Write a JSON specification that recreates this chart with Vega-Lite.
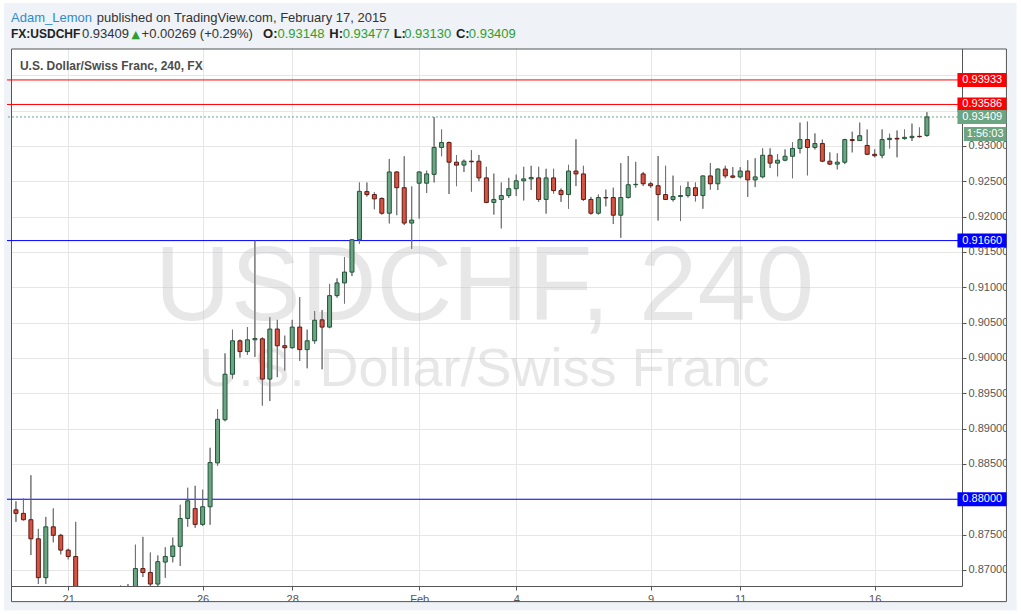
{
  "$schema": "https://vega.github.io/schema/vega-lite/v6.json",
  "width": 955,
  "height": 542,
  "autosize": "none",
  "padding": {"left": 7, "top": 44, "right": 59, "bottom": 28},
  "background": "#ffffff",
  "config": {
    "view": {"stroke": null},
    "font": "Liberation Sans",
    "axis": {"labelOverlap": false, "labelFlush": false, "gridColor": "#e6e6e6", "tickColor": "#555555", "domainColor": "#555555", "labelColor": "#555555", "labelFontSize": 11, "labelFont": "Liberation Sans", "tickSize": 4},
    "axisY": {"labelOverlap": false, "labelFlush": false, "tickCount": 30},
    "axisX": {"labelOverlap": false, "labelFlush": false, "tickCount": 30}
  },
  "datasets": {
    "candles": [
      {"i":0,"o":0.8785,"h":0.8797,"l":0.8768,"c":0.8780},
      {"i":1,"o":0.8780,"h":0.8801,"l":0.8770,"c":0.8771},
      {"i":2,"o":0.8771,"h":0.8834,"l":0.8721,"c":0.8744},
      {"i":3,"o":0.8744,"h":0.8758,"l":0.8680,"c":0.8689},
      {"i":4,"o":0.8689,"h":0.8775,"l":0.8680,"c":0.8761},
      {"i":5,"o":0.8761,"h":0.8787,"l":0.8739,"c":0.8749},
      {"i":6,"o":0.8749,"h":0.8751,"l":0.8722,"c":0.8728},
      {"i":7,"o":0.8728,"h":0.8730,"l":0.8715,"c":0.8719},
      {"i":8,"o":0.8719,"h":0.8768,"l":0.8620,"c":0.8632},
      {"i":9,"o":0.8632,"h":0.8668,"l":0.8605,"c":0.8650},
      {"i":10,"o":0.8650,"h":0.8675,"l":0.8625,"c":0.8640},
      {"i":11,"o":0.8640,"h":0.8670,"l":0.8590,"c":0.8610},
      {"i":12,"o":0.8610,"h":0.8650,"l":0.8580,"c":0.8625},
      {"i":13,"o":0.8625,"h":0.8660,"l":0.8600,"c":0.8645},
      {"i":14,"o":0.8645,"h":0.8678,"l":0.8620,"c":0.8655},
      {"i":15,"o":0.8655,"h":0.8680,"l":0.8630,"c":0.8660},
      {"i":16,"o":0.8660,"h":0.87357,"l":0.8650,"c":0.87019},
      {"i":17,"o":0.87019,"h":0.87468,"l":0.8690,"c":0.86964},
      {"i":18,"o":0.86964,"h":0.87246,"l":0.8675,"c":0.8680},
      {"i":19,"o":0.8680,"h":0.87204,"l":0.8675,"c":0.87117},
      {"i":20,"o":0.87111,"h":0.8732,"l":0.86889,"c":0.8719},
      {"i":21,"o":0.8719,"h":0.87458,"l":0.87107,"c":0.87339},
      {"i":22,"o":0.87333,"h":0.87922,"l":0.87056,"c":0.87728},
      {"i":23,"o":0.87728,"h":0.88163,"l":0.87611,"c":0.87978},
      {"i":24,"o":0.87867,"h":0.8819,"l":0.87597,"c":0.87644},
      {"i":25,"o":0.87644,"h":0.88135,"l":0.87621,"c":0.87894},
      {"i":26,"o":0.87894,"h":0.88728,"l":0.87639,"c":0.88519},
      {"i":27,"o":0.88514,"h":0.89274,"l":0.88472,"c":0.89131},
      {"i":28,"o":0.89125,"h":0.90065,"l":0.89103,"c":0.89769},
      {"i":29,"o":0.89769,"h":0.90399,"l":0.89704,"c":0.90242},
      {"i":30,"o":0.90242,"h":0.9026,"l":0.90006,"c":0.90089},
      {"i":31,"o":0.90089,"h":0.90436,"l":0.90042,"c":0.90256},
      {"i":32,"o":0.90256,"h":0.9166,"l":0.90014,"c":0.90274},
      {"i":33,"o":0.9027,"h":0.9029,"l":0.89325,"c":0.8970},
      {"i":34,"o":0.8970,"h":0.90575,"l":0.89389,"c":0.90408},
      {"i":35,"o":0.90408,"h":0.90538,"l":0.89728,"c":0.90172},
      {"i":36,"o":0.90172,"h":0.90315,"l":0.89819,"c":0.90144},
      {"i":37,"o":0.90144,"h":0.90538,"l":0.9013,"c":0.90436},
      {"i":38,"o":0.90436,"h":0.90861,"l":0.89958,"c":0.90117},
      {"i":39,"o":0.90117,"h":0.9040,"l":0.89853,"c":0.90242},
      {"i":40,"o":0.90242,"h":0.90663,"l":0.9020,"c":0.90533},
      {"i":41,"o":0.90538,"h":0.90676,"l":0.89839,"c":0.90436},
      {"i":42,"o":0.90436,"h":0.91047,"l":0.9042,"c":0.90881},
      {"i":43,"o":0.90881,"h":0.91125,"l":0.90853,"c":0.91061},
      {"i":44,"o":0.91061,"h":0.91426,"l":0.90769,"c":0.91214},
      {"i":45,"o":0.91214,"h":0.9168,"l":0.91158,"c":0.91672},
      {"i":46,"o":0.91672,"h":0.92482,"l":0.91611,"c":0.92357},
      {"i":47,"o":0.92353,"h":0.92482,"l":0.92283,"c":0.92311},
      {"i":48,"o":0.92311,"h":0.92343,"l":0.92103,"c":0.9225},
      {"i":49,"o":0.92256,"h":0.9227,"l":0.92028,"c":0.92047},
      {"i":50,"o":0.92047,"h":0.92815,"l":0.91903,"c":0.92631},
      {"i":51,"o":0.92631,"h":0.9264,"l":0.92019,"c":0.92408},
      {"i":52,"o":0.92408,"h":0.92853,"l":0.9188,"c":0.91908},
      {"i":53,"o":0.91908,"h":0.92426,"l":0.91542,"c":0.9195},
      {"i":54,"o":0.92472,"h":0.9264,"l":0.91972,"c":0.92631},
      {"i":55,"o":0.92472,"h":0.92649,"l":0.92333,"c":0.92603},
      {"i":56,"o":0.92597,"h":0.93408,"l":0.92482,"c":0.92978},
      {"i":57,"o":0.92978,"h":0.93232,"l":0.92853,"c":0.93047},
      {"i":58,"o":0.93047,"h":0.9306,"l":0.92319,"c":0.92769},
      {"i":59,"o":0.92769,"h":0.92871,"l":0.9243,"c":0.92728},
      {"i":60,"o":0.92728,"h":0.92806,"l":0.92631,"c":0.92783},
      {"i":61,"o":0.92783,"h":0.9294,"l":0.92353,"c":0.92775},
      {"i":62,"o":0.92783,"h":0.92871,"l":0.925,"c":0.92547},
      {"i":63,"o":0.92547,"h":0.92704,"l":0.9219,"c":0.922},
      {"i":64,"o":0.922,"h":0.92607,"l":0.92028,"c":0.92242},
      {"i":65,"o":0.92242,"h":0.92482,"l":0.91833,"c":0.92297},
      {"i":66,"o":0.92297,"h":0.92547,"l":0.92264,"c":0.92394},
      {"i":67,"o":0.92394,"h":0.92593,"l":0.92292,"c":0.92506},
      {"i":68,"o":0.92506,"h":0.92704,"l":0.92228,"c":0.92533},
      {"i":69,"o":0.92533,"h":0.92718,"l":0.92375,"c":0.92553},
      {"i":70,"o":0.92547,"h":0.92704,"l":0.92208,"c":0.92242},
      {"i":71,"o":0.92242,"h":0.92676,"l":0.92042,"c":0.92547},
      {"i":72,"o":0.92547,"h":0.92676,"l":0.92325,"c":0.92367},
      {"i":73,"o":0.92367,"h":0.92397,"l":0.92208,"c":0.92311},
      {"i":74,"o":0.92311,"h":0.92732,"l":0.92111,"c":0.92644},
      {"i":75,"o":0.92644,"h":0.93093,"l":0.92431,"c":0.92603},
      {"i":76,"o":0.92603,"h":0.92718,"l":0.9222,"c":0.92242},
      {"i":77,"o":0.92242,"h":0.92278,"l":0.92028,"c":0.92047},
      {"i":78,"o":0.92047,"h":0.92311,"l":0.92028,"c":0.92269},
      {"i":79,"o":0.92269,"h":0.92381,"l":0.92144,"c":0.92264},
      {"i":80,"o":0.92269,"h":0.92408,"l":0.91894,"c":0.92019},
      {"i":81,"o":0.92019,"h":0.92756,"l":0.917,"c":0.92269},
      {"i":82,"o":0.92269,"h":0.92857,"l":0.92256,"c":0.9245},
      {"i":83,"o":0.9245,"h":0.92774,"l":0.92408,"c":0.92456},
      {"i":84,"o":0.92603,"h":0.92631,"l":0.92431,"c":0.92464},
      {"i":85,"o":0.92464,"h":0.92492,"l":0.92408,"c":0.92436},
      {"i":86,"o":0.92436,"h":0.92857,"l":0.91944,"c":0.92311},
      {"i":87,"o":0.92311,"h":0.92718,"l":0.92236,"c":0.92242},
      {"i":88,"o":0.92242,"h":0.92579,"l":0.92214,"c":0.92283},
      {"i":89,"o":0.92283,"h":0.92436,"l":0.91936,"c":0.92297},
      {"i":90,"o":0.92297,"h":0.92492,"l":0.92269,"c":0.92408},
      {"i":91,"o":0.92408,"h":0.92482,"l":0.92214,"c":0.92297},
      {"i":92,"o":0.92297,"h":0.9258,"l":0.92111,"c":0.92575},
      {"i":93,"o":0.92575,"h":0.92756,"l":0.92381,"c":0.92464},
      {"i":94,"o":0.92464,"h":0.9268,"l":0.92375,"c":0.92672},
      {"i":95,"o":0.92672,"h":0.92718,"l":0.92542,"c":0.92575},
      {"i":96,"o":0.92575,"h":0.927,"l":0.92542,"c":0.92556},
      {"i":97,"o":0.92561,"h":0.927,"l":0.92542,"c":0.92644},
      {"i":98,"o":0.92644,"h":0.92797,"l":0.92278,"c":0.92519},
      {"i":99,"o":0.92519,"h":0.92825,"l":0.92417,"c":0.92561},
      {"i":100,"o":0.92561,"h":0.92964,"l":0.92542,"c":0.92867},
      {"i":101,"o":0.92867,"h":0.92964,"l":0.92686,"c":0.92756},
      {"i":102,"o":0.92756,"h":0.92885,"l":0.92569,"c":0.92797},
      {"i":103,"o":0.92797,"h":0.9295,"l":0.92783,"c":0.92853},
      {"i":104,"o":0.92853,"h":0.93051,"l":0.92542,"c":0.92964},
      {"i":105,"o":0.92964,"h":0.93329,"l":0.92894,"c":0.93089},
      {"i":106,"o":0.93089,"h":0.93343,"l":0.92583,"c":0.92978},
      {"i":107,"o":0.92978,"h":0.93176,"l":0.9295,"c":0.93033},
      {"i":108,"o":0.93033,"h":0.93089,"l":0.9277,"c":0.92783},
      {"i":109,"o":0.92783,"h":0.92908,"l":0.92728,"c":0.92742},
      {"i":110,"o":0.92742,"h":0.92894,"l":0.92667,"c":0.92769},
      {"i":111,"o":0.92769,"h":0.931,"l":0.92742,"c":0.93089},
      {"i":112,"o":0.93089,"h":0.932,"l":0.92908,"c":0.93075},
      {"i":113,"o":0.93075,"h":0.93329,"l":0.9307,"c":0.93144},
      {"i":114,"o":0.93006,"h":0.93232,"l":0.9287,"c":0.92881},
      {"i":115,"o":0.92881,"h":0.9295,"l":0.92839,"c":0.92861},
      {"i":116,"o":0.92867,"h":0.93232,"l":0.92825,"c":0.93089},
      {"i":117,"o":0.93089,"h":0.93172,"l":0.92964,"c":0.93107},
      {"i":118,"o":0.93107,"h":0.93218,"l":0.92839,"c":0.93097},
      {"i":119,"o":0.93103,"h":0.93232,"l":0.93089,"c":0.93121},
      {"i":120,"o":0.93117,"h":0.93315,"l":0.93069,"c":0.93135},
      {"i":121,"o":0.93135,"h":0.9326,"l":0.9312,"c":0.9313},
      {"i":122,"o":0.93148,"h":0.93477,"l":0.9313,"c":0.93409}
    ],
    "levels": [
      {"price":0.93933,"level":"resistance"},
      {"price":0.93586,"level":"resistance"},
      {"price":0.9166,"level":"support"},
      {"price":0.88,"level":"support"},
      {"price":0.93409,"level":"last","countdown":"1:56:03"}
    ]
  },
  "layer": [
    {
      "data": {"name": "candles"},
      "mark": {"type": "rule", "color": "#737375", "strokeWidth": 1, "clip": true},
      "encoding": {
        "x": {"field": "i", "type": "quantitative", "scale": {"domain": [-0.53, 126.03], "nice": false, "zero": false},
          "axis": {"orient": "bottom", "title": null, "values": [7, 25, 37, 54, 67, 85, 97, 115], "tickCount": 30,
            "labelExpr": "datum.value==7?'21':datum.value==25?'26':datum.value==37?'28':datum.value==54?'Feb':datum.value==67?'4':datum.value==85?'9':datum.value==97?'11':'16'",
            "grid": true, "gridColor": "#e6e6e6", "tickColor": "#555555", "tickSize": 4, "domainColor": "#555555",
            "labelColor": "#555555", "labelFont": "Liberation Sans", "labelFontSize": 11, "labelPadding": 3, "labelOverlap": false, "labelFlush": false}},
        "y": {"field": "l", "type": "quantitative", "scale": {"domain": [0.868431, 0.943708], "nice": false, "zero": false},
          "axis": {"orient": "right", "title": null, "values": [0.87, 0.875, 0.88, 0.885, 0.89, 0.895, 0.9, 0.905, 0.91, 0.915, 0.92, 0.925, 0.93, 0.935, 0.94], "tickCount": 30,
            "labelExpr": "abs(datum.value-0.88)<0.000001 || abs(datum.value-0.935)<0.000001 || abs(datum.value-0.94)<0.000001 ? '' : format(datum.value, '.5f')",
            "grid": true, "gridColor": "#e6e6e6", "tickColor": "#555555", "tickSize": 4, "domainColor": "#555555",
            "labelColor": "#555555", "labelFont": "Liberation Sans", "labelFontSize": 11, "labelPadding": 2, "labelOverlap": false, "labelFlush": false}},
        "y2": {"field": "h"}
      }
    },
    {
      "data": {"values": [{}]},
      "mark": {"type": "rect", "color": "#eff2f6"},
      "encoding": {"x": {"datum": -1.6}, "x2": {"datum": 134}, "y": {"datum": 0.9502}, "y2": {"datum": 0.943708}}
    },
    {
      "data": {"values": [{}]},
      "mark": {"type": "rect", "color": "#eff2f6"},
      "encoding": {"x": {"datum": -1.6}, "x2": {"datum": -0.596}, "y": {"datum": 0.943708}, "y2": {"datum": 0.8643}}
    },
    {
      "data": {"values": [{}]},
      "mark": {"type": "rect", "color": "#eff2f6"},
      "encoding": {"x": {"datum": 132.65}, "x2": {"datum": 134}, "y": {"datum": 0.943708}, "y2": {"datum": 0.8643}}
    },
    {
      "data": {"values": [{}]},
      "mark": {"type": "rect", "color": "#eff2f6"},
      "encoding": {"x": {"datum": -1.6}, "x2": {"datum": 134}, "y": {"datum": 0.865514}, "y2": {"datum": 0.8643}}
    },
    {
      "data": {"values": [{}]},
      "mark": {"type": "rect", "fillOpacity": 0, "stroke": "#555555", "strokeWidth": 1},
      "encoding": {"x": {"datum": -0.596}, "x2": {"datum": 132.65}, "y": {"datum": 0.943708}, "y2": {"datum": 0.865514}}
    },
    {
      "data": {"values": [{}]},
      "mark": {"type": "text", "text": "USDCHF, 240", "font": "Liberation Sans", "fontSize": 105, "align": "center", "baseline": "alphabetic", "color": "#c4c4c4", "opacity": 0.4},
      "encoding": {"x": {"datum": 62.75}, "y": {"datum": 0.905375}}
    },
    {
      "data": {"values": [{}]},
      "mark": {"type": "text", "text": "U.S. Dollar/Swiss Franc", "font": "Liberation Sans", "fontSize": 54, "align": "center", "baseline": "alphabetic", "color": "#c4c4c4", "opacity": 0.4},
      "encoding": {"x": {"datum": 62.75}, "y": {"datum": 0.896069}}
    },
    {
      "data": {"values": [{}]},
      "mark": {"type": "text", "text": "U.S. Dollar/Swiss Franc, 240, FX", "font": "Liberation Sans", "fontSize": 12, "fontWeight": "bold", "align": "left", "baseline": "alphabetic", "color": "#4c4c4c"},
      "encoding": {"x": {"datum": 0.53}, "y": {"datum": 0.94075}}
    },
    {
      "data": {"values": [{}]},
      "mark": {"type": "text", "text": "Adam_Lemon", "fontSize": 13, "align": "left", "baseline": "alphabetic", "color": "#2e8bd0"},
      "encoding": {"x": {"datum": -0.663}, "y": {"datum": 0.947597}}
    },
    {
      "data": {"values": [{}]},
      "mark": {"type": "text", "text": "published on TradingView.com, February 17, 2015", "fontSize": 13, "align": "left", "baseline": "alphabetic", "color": "#333333"},
      "encoding": {"x": {"datum": 10.83}, "y": {"datum": 0.947597}}
    },
    {
      "data": {"values": [{}]},
      "mark": {"type": "text", "text": "FX:USDCHF", "fontSize": 12, "fontWeight": "bold", "align": "left", "baseline": "alphabetic", "color": "#222222"},
      "encoding": {"x": {"datum": -0.663}, "y": {"datum": 0.945236}}
    },
    {
      "data": {"values": [{}]},
      "mark": {"type": "text", "text": "0.93409", "fontSize": 13, "align": "left", "baseline": "alphabetic", "color": "#333333"},
      "encoding": {"x": {"datum": 8.84}, "y": {"datum": 0.945236}}
    },
    {
      "data": {"values": [{}]},
      "mark": {"type": "text", "text": "▲", "font": "DejaVu Sans", "fontSize": 11, "align": "left", "baseline": "alphabetic", "color": "#2e9e2e"},
      "encoding": {"x": {"datum": 15.47}, "y": {"datum": 0.945236}}
    },
    {
      "data": {"values": [{}]},
      "mark": {"type": "text", "text": "+0.00269 (+0.29%)", "fontSize": 13, "align": "left", "baseline": "alphabetic", "color": "#333333"},
      "encoding": {"x": {"datum": 16.83}, "y": {"datum": 0.945236}}
    },
    {
      "data": {"values": [{}]},
      "mark": {"type": "text", "text": "O:", "fontSize": 13, "fontWeight": "bold", "align": "left", "baseline": "alphabetic", "color": "#222222"},
      "encoding": {"x": {"datum": 33.09}, "y": {"datum": 0.945236}}
    },
    {
      "data": {"values": [{}]},
      "mark": {"type": "text", "text": "0.93148", "fontSize": 13, "align": "left", "baseline": "alphabetic", "color": "#2e9e2e"},
      "encoding": {"x": {"datum": 35.03}, "y": {"datum": 0.945236}}
    },
    {
      "data": {"values": [{}]},
      "mark": {"type": "text", "text": "H:", "fontSize": 13, "fontWeight": "bold", "align": "left", "baseline": "alphabetic", "color": "#222222"},
      "encoding": {"x": {"datum": 41.97}, "y": {"datum": 0.945236}}
    },
    {
      "data": {"values": [{}]},
      "mark": {"type": "text", "text": "0.93477", "fontSize": 13, "align": "left", "baseline": "alphabetic", "color": "#2e9e2e"},
      "encoding": {"x": {"datum": 43.77}, "y": {"datum": 0.945236}}
    },
    {
      "data": {"values": [{}]},
      "mark": {"type": "text", "text": "L:", "fontSize": 13, "fontWeight": "bold", "align": "left", "baseline": "alphabetic", "color": "#222222"},
      "encoding": {"x": {"datum": 50.58}, "y": {"datum": 0.945236}}
    },
    {
      "data": {"values": [{}]},
      "mark": {"type": "text", "text": "0.93130", "fontSize": 13, "align": "left", "baseline": "alphabetic", "color": "#2e9e2e"},
      "encoding": {"x": {"datum": 51.99}, "y": {"datum": 0.945236}}
    },
    {
      "data": {"values": [{}]},
      "mark": {"type": "text", "text": "C:", "fontSize": 13, "fontWeight": "bold", "align": "left", "baseline": "alphabetic", "color": "#222222"},
      "encoding": {"x": {"datum": 58.93}, "y": {"datum": 0.945236}}
    },
    {
      "data": {"values": [{}]},
      "mark": {"type": "text", "text": "0.93409", "fontSize": 13, "align": "left", "baseline": "alphabetic", "color": "#2e9e2e"},
      "encoding": {"x": {"datum": 60.65}, "y": {"datum": 0.945236}}
    },
    {
      "data": {"name": "levels"},
      "transform": [{"filter": "datum.level != 'last'"}],
      "mark": {"type": "rule", "strokeWidth": 1},
      "encoding": {
        "y": {"field": "price", "type": "quantitative"},
        "color": {"field": "level", "type": "nominal", "scale": {"domain": ["resistance", "support", "last"], "range": ["#ff0000", "#0000ff", "#6ba583"]}, "legend": null}
      }
    },
    {
      "data": {"name": "levels"},
      "transform": [{"filter": "datum.level == 'last'"}],
      "mark": {"type": "rule", "strokeWidth": 1, "strokeDash": [2, 2], "color": "#6ba583"},
      "encoding": {"y": {"field": "price", "type": "quantitative"}}
    },
    {
      "data": {"name": "candles"},
      "mark": {"type": "rule", "color": "#737375", "strokeWidth": 1, "clip": true},
      "encoding": {
        "x": {"field": "i", "type": "quantitative"},
        "y": {"field": "l", "type": "quantitative"},
        "y2": {"field": "h"}
      }
    },
    {
      "data": {"name": "candles"},
      "mark": {"type": "bar", "size": 4, "strokeWidth": 1, "clip": true},
      "encoding": {
        "x": {"field": "i", "type": "quantitative"},
        "y": {"field": "o", "type": "quantitative"},
        "y2": {"field": "c"},
        "fill": {"condition": {"test": "datum.c >= datum.o", "value": "#6ba583"}, "value": "#d75442"},
        "stroke": {"condition": {"test": "datum.c >= datum.o", "value": "#225437"}, "value": "#5b1a13"}
      }
    },
    {
      "data": {"name": "levels"},
      "mark": {"type": "bar", "size": 14},
      "encoding": {
        "x": {"datum": 126.09}, "x2": {"datum": 132.65},
        "y": {"field": "price", "type": "quantitative"},
        "color": {"field": "level", "type": "nominal", "legend": null}
      }
    },
    {
      "data": {"name": "levels"},
      "mark": {"type": "text", "color": "#ffffff", "fontSize": 11, "font": "Liberation Sans", "align": "center", "baseline": "middle"},
      "encoding": {
        "x": {"datum": 129.41},
        "y": {"field": "price", "type": "quantitative"},
        "text": {"field": "price", "type": "quantitative", "format": ".5f"}
      }
    },
    {
      "data": {"name": "levels"},
      "transform": [{"filter": "datum.level == 'last'"}],
      "mark": {"type": "bar", "size": 14, "color": "#6ba583"},
      "encoding": {
        "x": {"datum": 126.95}, "x2": {"datum": 132.65},
        "y": {"datum": 0.931694}
      }
    },
    {
      "data": {"name": "levels"},
      "transform": [{"filter": "datum.level == 'last'"}],
      "mark": {"type": "text", "color": "#ffffff", "fontSize": 11, "font": "Liberation Sans", "align": "center", "baseline": "middle"},
      "encoding": {
        "x": {"datum": 129.8},
        "y": {"datum": 0.931694},
        "text": {"field": "countdown"}
      }
    }
  ]
}
